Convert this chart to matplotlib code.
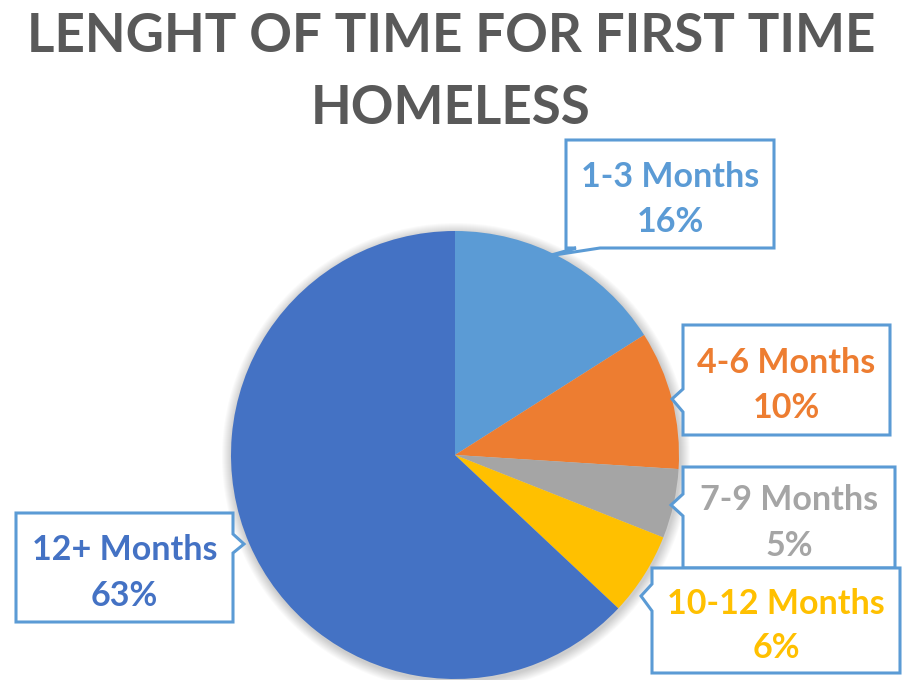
import numpy as np
import matplotlib.pyplot as plt
from matplotlib.patches import Polygon, Circle

categories = ["1-3 Months", "4-6 Months", "7-9 Months", "10-12 Months", "12+ Months"]
shares = [16, 10, 5, 6, 63]
colors = ["#5B9BD5", "#ED7D31", "#A5A5A5", "#FFC000", "#4472C4"]
title_lines = ["LENGHT OF TIME FOR FIRST TIME", "HOMELESS"]

W, H = 902, 680
fig = plt.figure(figsize=(W / 100, H / 100), dpi=100)
ax = fig.add_axes([0, 0, 1, 1])
font = "Lato"

cx, cy, r = 455, 455, 224

# soft shadow behind the pie
for i in range(10):
    ax.add_patch(Circle((cx + 1, H - cy - 2), r + 10 - i, color="#000000",
                        alpha=0.018, lw=0, zorder=0))

ax.pie(shares, colors=colors, startangle=90, counterclock=False,
       center=(cx, H - cy), radius=r, wedgeprops=dict(linewidth=0))

ax.set_xlim(0, W)
ax.set_ylim(0, H)
ax.set_aspect("equal")
ax.axis("off")

renderer = fig.canvas.get_renderer()


def fit_size(s, target_px, start=30):
    t = fig.text(0, 0, s, fontsize=start, fontweight="bold", family=font)
    w = t.get_window_extent(renderer).width
    t.remove()
    return start * target_px / w


title_size = fit_size(title_lines[0], 850)
fig.text(0.5, 1 - 37 / H, title_lines[0], ha="center", va="center",
         fontsize=title_size, fontweight="bold", color="#595959", family=font)
fig.text(0.5, 1 - 109 / H, title_lines[1], ha="center", va="center",
         fontsize=title_size, fontweight="bold", color="#595959", family=font)

label_size = fit_size("10-12 Months", 217)

# callout layout: box (x0, y0, x1, y1) in image pixels, outline with a notch
callouts = {
    "1-3 Months": dict(box=(566, 140, 774, 248),
                       outline=[(566, 140), (774, 140), (774, 248), (600, 248),
                                (548, 256), (576, 248), (566, 248)]),
    "4-6 Months": dict(box=(683, 325, 890, 435),
                       outline=[(683, 325), (890, 325), (890, 435), (683, 435),
                                (683, 412), (672, 399), (683, 389)]),
    "7-9 Months": dict(box=(683, 467, 895, 568),
                       outline=[(683, 467), (895, 467), (895, 568), (683, 568),
                                (683, 516), (671, 505), (683, 494)]),
    "10-12 Months": dict(box=(652, 568, 900, 673),
                         outline=[(652, 568), (900, 568), (900, 673), (652, 673),
                                  (652, 611), (641, 596), (652, 584)]),
    "12+ Months": dict(box=(16, 513, 233, 622),
                       outline=[(16, 513), (233, 513), (233, 534), (244, 544),
                                (233, 553), (233, 622), (16, 622)]),
}

for cat, share, col in zip(categories, shares, colors):
    c = callouts[cat]
    pts = [(x, H - y) for x, y in c["outline"]]
    ax.add_patch(Polygon(pts, closed=True, facecolor="white",
                         edgecolor="#5B9BD5", lw=2.2, zorder=5))
    x0, y0, x1, y1 = c["box"]
    xm = (x0 + x1) / 2
    ym = (y0 + y1) / 2
    ax.text(xm, H - (ym - 17), cat, ha="center", va="center", fontsize=label_size,
            fontweight="bold", color=col, family=font, zorder=6)
    ax.text(xm, H - (ym + 28), f"{share}%", ha="center", va="center",
            fontsize=label_size, fontweight="bold", color=col, family=font, zorder=6)

fig.savefig("out.png", dpi=100)
